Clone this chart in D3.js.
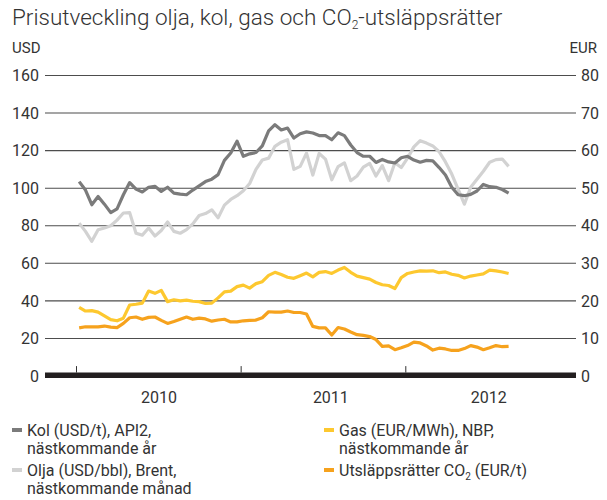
<!DOCTYPE html>
<html>
<head>
<meta charset="utf-8">
<script src="https://cdn.jsdelivr.net/npm/d3@7"></script>
<style>
  body { margin: 0; background: #fff; }
  svg text { font-family: Roboto, "Open Sans", sans-serif; fill: #333; }
</style>
</head>
<body>
<div id="chart"></div>
<script>
// biweekly samples starting 2010-01-08
var firstDate = "2010-01-08";
var stepDays = 14;

// Kol (USD/t), API2
var kol = [103.5, 99, 91.2, 95.6, 91.5, 87, 89, 96.5, 103, 99.5, 98, 100.5, 101, 98.3, 100.5, 97.4,
  96.8, 96.5, 99, 101.2, 103.5, 104.8, 107.2, 114.8, 118.7, 125, 117, 118.3, 119, 122.5, 130.5, 133.8,
  131, 132, 126.7, 129, 130, 129.4, 128, 128, 125.8, 129.5, 128, 123, 119, 117, 117, 113.7,
  115.3, 114, 113.4, 116.2, 117, 115, 113.8, 114.8, 114.5, 111, 107, 100.5, 96.5, 96, 96.7, 98.5,
  102, 100.8, 100.5, 99.3, 97.4];

// Olja (USD/bbl), Brent
var olja = [81.4, 77, 71.7, 77.9, 78.8, 80, 83, 86.8, 87, 76, 75, 78.8, 74.5, 77.5, 82, 77,
  76, 77.9, 81, 85.5, 86.5, 88.5, 84.2, 91, 94, 96, 98.6, 102.5, 110, 115, 116, 122.3,
  124.5, 125.8, 110, 111.6, 118.7, 107, 118.5, 115.5, 104.5, 111.5, 113.5, 104, 106.5, 111.2, 113.2, 106.5,
  112, 104, 113.5, 111, 116, 122, 125.3, 124, 122.5, 119.4, 114, 107.5, 99.5, 91.5, 100.5, 104.8,
  109, 113.8, 115.2, 115.5, 111.6];

// Gas (EUR/MWh), NBP
var gas = [18.3, 17.3, 17.4, 17, 16, 15, 14.7, 15.4, 18.9, 19.1, 19.4, 22.6, 22, 22.8, 19.8, 20.3,
  20, 20.2, 19.9, 19.8, 19.3, 19.4, 20.8, 22.4, 22.6, 23.8, 24.2, 23.4, 24.6, 25.1, 26.8, 27.6,
  27, 26.3, 26, 26.7, 27.4, 26.4, 27.6, 27.8, 27.3, 28.2, 28.9, 27.6, 26.6, 26.2, 25.8, 24.9,
  24.3, 24.1, 23.3, 26.2, 27.3, 27.7, 28, 27.9, 28, 27.5, 27.7, 27.1, 26.8, 26.1, 26.6, 26.9,
  27.2, 28.2, 28, 27.7, 27.3];

// Utsläppsrätter CO2 (EUR/t)
var co2 = [12.8, 13.1, 13.1, 13.1, 13.3, 13, 12.9, 14, 15.5, 15.7, 15.1, 15.6, 15.7, 14.8, 14, 14.5,
  15.1, 15.7, 15.1, 15.4, 15.2, 14.6, 14.9, 15.1, 14.4, 14.4, 14.7, 14.8, 14.9, 15.5, 17.1, 17,
  17, 17.3, 16.9, 16.9, 16.5, 13.2, 12.8, 12.8, 10.9, 12.9, 12.5, 11.7, 11, 10.8, 10.5, 9.7,
  7.9, 8, 7, 7.5, 8.1, 9, 8.8, 8, 6.9, 7.4, 7.2, 6.8, 6.8, 7.3, 8.1, 7.7,
  7, 7.5, 8.1, 7.8, 7.9];

var usdTicks = [0, 20, 40, 60, 80, 100, 120, 140, 160];
var eurTicks = [0, 10, 20, 30, 40, 50, 60, 70, 80];
var yearStarts = ["2010-01-01", "2011-01-01", "2012-01-01"];
var yearLabels = ["2010", "2011", "2012"];
var yearLabelDates = ["2010-07-04", "2011-07-20", "2012-07-04"];

var colors = { kol: "#7b7b7b", olja: "#d2d2d2", gas: "#fdc82f", co2: "#f6a21d" };

var width = 607, height = 500;
var left = 45, right = 576;

var parse = d3.timeParse("%Y-%m-%d");
var start = parse(firstDate);
var dates = kol.map(function(d, i) { return d3.timeDay.offset(start, i * stepDays); });

var svg = d3.select("#chart").append("svg")
  .attr("width", width)
  .attr("height", height);

var x = d3.scaleTime()
  .domain([parse("2010-01-01"), parse("2012-01-01")])
  .range([76, 405.3]);

var yUsd = d3.scaleLinear().domain([0, 160]).range([376, 75.5]);
var yEur = d3.scaleLinear().domain([0, 80]).range([376, 75.5]);

// title, fitted to the reference width
var title = svg.append("text")
  .attr("x", 12)
  .attr("y", 25)
  .style("font-size", "21px")
  .style("font-weight", 300);
title.append("tspan").text("Prisutveckling olja, kol, gas och CO");
title.append("tspan").text("2").attr("dy", 4).style("font-size", "12px");
title.append("tspan").text("-utsläppsrätter").attr("dy", -4);
var tw = title.node().getComputedTextLength();
if (tw > 0) title.style("font-size", (21 * 491 / tw) + "px");

svg.append("text").attr("x", 12).attr("y", 52.5).style("font-size", "15px").text("USD");
svg.append("text").attr("x", 597).attr("y", 52.5).attr("text-anchor", "end")
  .style("font-size", "15px").text("EUR");

// grid lines
svg.append("g")
  .selectAll("line")
  .data(usdTicks.filter(function(d) { return d > 0; }))
  .enter()
  .append("line")
  .attr("x1", left)
  .attr("x2", right)
  .attr("y1", function(d) { return yUsd(d); })
  .attr("y2", function(d) { return yUsd(d); })
  .style("stroke", "#4d4d4d")
  .style("stroke-width", 1.1);

// axis labels
var leftAxis = svg.append("g")
  .attr("transform", "translate(" + (left - 6) + ",0)")
  .call(d3.axisLeft(yUsd).tickValues(usdTicks).tickSize(0).tickPadding(0));
leftAxis.select(".domain").remove();
leftAxis.selectAll("text").style("font-size", "16px").style("font-family", "Roboto, sans-serif").attr("fill", "#333");

var rightAxis = svg.append("g")
  .attr("transform", "translate(" + (right + 5) + ",0)")
  .call(d3.axisRight(yEur).tickValues(eurTicks).tickSize(0).tickPadding(0));
rightAxis.select(".domain").remove();
rightAxis.selectAll("text").style("font-size", "16px").style("font-family", "Roboto, sans-serif").attr("fill", "#333");

// lines
var lineUsd = d3.line()
  .x(function(d, i) { return x(dates[i]); })
  .y(function(d) { return yUsd(d); });
var lineEur = d3.line()
  .x(function(d, i) { return x(dates[i]); })
  .y(function(d) { return yEur(d); });

function drawLine(values, gen, color) {
  svg.append("path")
    .datum(values)
    .attr("d", gen)
    .style("fill", "none")
    .style("stroke", color)
    .style("stroke-width", 3.2)
    .style("stroke-linejoin", "round");
}
drawLine(olja, lineUsd, colors.olja);
drawLine(kol, lineUsd, colors.kol);
drawLine(gas, lineEur, colors.gas);
drawLine(co2, lineEur, colors.co2);

// x axis: thick base bar with year ticks
svg.append("line")
  .attr("x1", left)
  .attr("x2", right)
  .attr("y1", 375.3)
  .attr("y2", 375.3)
  .style("stroke", "#231f20")
  .style("stroke-width", 5.5);

var xAxis = svg.append("g")
  .attr("transform", "translate(0,372.6)")
  .call(d3.axisTop(x).tickValues(yearStarts.map(parse)).tickSize(6.5).tickFormat(""));
xAxis.select(".domain").remove();
xAxis.selectAll("line").style("stroke", "#333");

svg.append("g")
  .selectAll("text")
  .data(yearLabels)
  .enter()
  .append("text")
  .attr("x", function(d, i) { return x(parse(yearLabelDates[i])); })
  .attr("y", 402.5)
  .attr("text-anchor", "middle")
  .style("font-size", "16px")
  .text(function(d) { return d; });

// legend
var legend = [
  { color: colors.kol, lines: ["Kol (USD/t), API2,", "nästkommande år"], col: 0, row: 0 },
  { color: colors.olja, lines: ["Olja (USD/bbl), Brent,", "nästkommande månad"], col: 0, row: 1 },
  { color: colors.gas, lines: ["Gas (EUR/MWh), NBP,", "nästkommande år"], col: 1, row: 0 },
  { color: colors.co2, lines: ["Utsläppsrätter CO", "2", " (EUR/t)"], col: 1, row: 1, sub: true }
];

legend.forEach(function(item) {
  var gx = item.col === 0 ? 12 : 324;
  var gy = 430 + item.row * 40;
  svg.append("rect")
    .attr("x", gx)
    .attr("y", gy - 2)
    .attr("width", 10)
    .attr("height", 4)
    .style("fill", item.color);
  if (item.sub) {
    var t = svg.append("text")
      .attr("x", gx + 15)
      .attr("y", gy + 5.5)
      .style("font-size", "16px");
    t.append("tspan").text(item.lines[0]);
    t.append("tspan").text(item.lines[1]).attr("dy", 4).style("font-size", "10px");
    t.append("tspan").text(item.lines[2]).attr("dy", -4);
  } else {
    item.lines.forEach(function(s, j) {
      svg.append("text")
        .attr("x", gx + 15)
        .attr("y", gy + 5.5 + j * 18.8)
        .style("font-size", "16px")
        .text(s);
    });
  }
});
</script>
</body>
</html>
